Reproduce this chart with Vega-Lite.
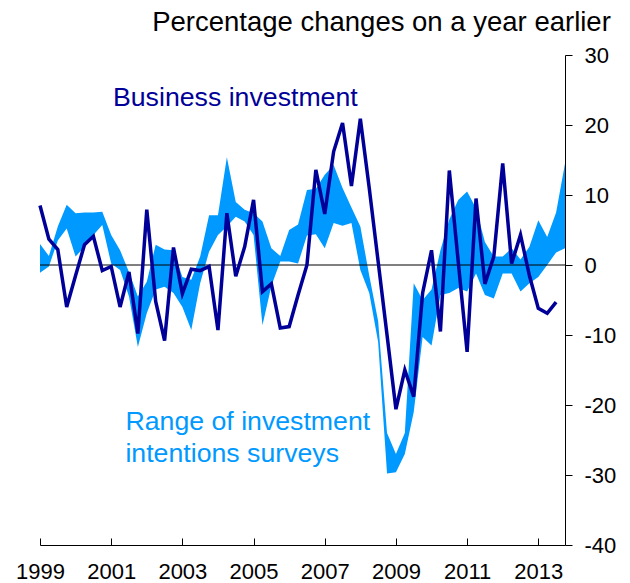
{
  "$schema": "https://vega.github.io/schema/vega-lite/v6.json",
  "width": 525,
  "height": 490,
  "autosize": {"type": "none"},
  "padding": {"left": 40, "top": 55, "right": 65, "bottom": 38},
  "title": {"text": "Percentage changes on a year earlier", "anchor": "end", "frame": "bounds", "fontSize": 27.5, "fontWeight": "normal", "color": "#000000", "offset": 8, "dx": -5, "font": "Liberation Sans"},
  "config": {
    "view": {"stroke": null},
    "font": "Liberation Sans",
    "axis": {"domainColor": "#000000", "tickColor": "#000000", "labelColor": "#000000", "grid": false, "title": null, "labelFont": "Liberation Sans", "labelFontSize": 22, "domainWidth": 1, "tickWidth": 1}
  },
  "datasets": {
    "band": [
      {"t": 1999.00, "lo": -1.1, "hi": 3.0}, {"t": 1999.25, "lo": -0.2, "hi": 1.3}, {"t": 1999.50, "lo": 3.5, "hi": 5.5}, {"t": 1999.75, "lo": 5.2, "hi": 8.6},
      {"t": 2000.00, "lo": 1.2, "hi": 7.4}, {"t": 2000.25, "lo": 2.6, "hi": 7.5}, {"t": 2000.50, "lo": 4.3, "hi": 7.5}, {"t": 2000.75, "lo": 5.7, "hi": 7.6},
      {"t": 2001.00, "lo": 0.2, "hi": 4.3}, {"t": 2001.25, "lo": -0.7, "hi": 2.1}, {"t": 2001.50, "lo": -4.5, "hi": -1.0}, {"t": 2001.75, "lo": -11.7, "hi": -4.5},
      {"t": 2002.00, "lo": -6.9, "hi": -2.4}, {"t": 2002.25, "lo": -3.5, "hi": 2.9}, {"t": 2002.50, "lo": -3.1, "hi": 2.2}, {"t": 2002.75, "lo": -4.0, "hi": 2.1},
      {"t": 2003.00, "lo": -6.0, "hi": -1.7}, {"t": 2003.25, "lo": -9.3, "hi": -2.1}, {"t": 2003.50, "lo": -2.6, "hi": 1.2}, {"t": 2003.75, "lo": 1.9, "hi": 7.1},
      {"t": 2004.00, "lo": 4.3, "hi": 7.1}, {"t": 2004.25, "lo": 5.5, "hi": 15.4}, {"t": 2004.50, "lo": 6.9, "hi": 9.0}, {"t": 2004.75, "lo": 6.2, "hi": 7.9},
      {"t": 2005.00, "lo": 4.3, "hi": 7.4}, {"t": 2005.25, "lo": -8.6, "hi": 6.2}, {"t": 2005.50, "lo": -3.0, "hi": 2.4}, {"t": 2005.75, "lo": 0.5, "hi": 1.3},
      {"t": 2006.00, "lo": 0.5, "hi": 5.0}, {"t": 2006.25, "lo": 0.2, "hi": 5.8}, {"t": 2006.50, "lo": 4.2, "hi": 10.7}, {"t": 2006.75, "lo": 4.4, "hi": 10.9},
      {"t": 2007.00, "lo": 2.4, "hi": 12.9}, {"t": 2007.25, "lo": 6.0, "hi": 14.3}, {"t": 2007.50, "lo": 5.6, "hi": 11.0}, {"t": 2007.75, "lo": 6.0, "hi": 8.2},
      {"t": 2008.00, "lo": -0.7, "hi": 5.5}, {"t": 2008.25, "lo": -4.0, "hi": -1.5}, {"t": 2008.50, "lo": -11.0, "hi": -8.0}, {"t": 2008.75, "lo": -29.8, "hi": -24.0},
      {"t": 2009.00, "lo": -29.6, "hi": -27.0}, {"t": 2009.25, "lo": -27.0, "hi": -24.0}, {"t": 2009.50, "lo": -21.0, "hi": -2.6}, {"t": 2009.75, "lo": -10.3, "hi": -5.0},
      {"t": 2010.00, "lo": -11.5, "hi": -3.5}, {"t": 2010.25, "lo": -4.3, "hi": 2.1}, {"t": 2010.50, "lo": -4.0, "hi": 6.5}, {"t": 2010.75, "lo": -3.3, "hi": 9.3},
      {"t": 2011.00, "lo": -3.8, "hi": 10.5}, {"t": 2011.25, "lo": -1.2, "hi": 8.1}, {"t": 2011.50, "lo": -4.3, "hi": 3.3}, {"t": 2011.75, "lo": -4.8, "hi": 1.2},
      {"t": 2012.00, "lo": -1.2, "hi": 1.2}, {"t": 2012.25, "lo": -1.2, "hi": 2.4}, {"t": 2012.50, "lo": -3.8, "hi": 0.8}, {"t": 2012.75, "lo": -2.6, "hi": 2.6},
      {"t": 2013.00, "lo": -1.7, "hi": 6.4}, {"t": 2013.25, "lo": 0.0, "hi": 4.0}, {"t": 2013.50, "lo": 1.8, "hi": 7.5}, {"t": 2013.75, "lo": 2.4, "hi": 14.5}
    ],
    "line": [
      {"t": 1999.00, "v": 8.5}, {"t": 1999.25, "v": 3.7}, {"t": 1999.50, "v": 2.2}, {"t": 1999.75, "v": -6.0},
      {"t": 2000.00, "v": -1.5}, {"t": 2000.25, "v": 2.9}, {"t": 2000.50, "v": 4.1}, {"t": 2000.75, "v": -0.8},
      {"t": 2001.00, "v": -0.2}, {"t": 2001.25, "v": -6.0}, {"t": 2001.50, "v": -1.0}, {"t": 2001.75, "v": -9.8},
      {"t": 2002.00, "v": 7.9}, {"t": 2002.25, "v": -5.2}, {"t": 2002.50, "v": -10.8}, {"t": 2002.75, "v": 2.5},
      {"t": 2003.00, "v": -4.1}, {"t": 2003.25, "v": -0.6}, {"t": 2003.50, "v": -0.8}, {"t": 2003.75, "v": -0.2},
      {"t": 2004.00, "v": -9.3}, {"t": 2004.25, "v": 7.4}, {"t": 2004.50, "v": -1.6}, {"t": 2004.75, "v": 2.6},
      {"t": 2005.00, "v": 9.3}, {"t": 2005.25, "v": -3.8}, {"t": 2005.50, "v": -2.7}, {"t": 2005.75, "v": -9.0},
      {"t": 2006.00, "v": -8.8}, {"t": 2006.25, "v": -4.3}, {"t": 2006.50, "v": 0.0}, {"t": 2006.75, "v": 13.6},
      {"t": 2007.00, "v": 7.3}, {"t": 2007.25, "v": 16.2}, {"t": 2007.50, "v": 20.3}, {"t": 2007.75, "v": 11.3},
      {"t": 2008.00, "v": 20.9}, {"t": 2008.25, "v": 11.0}, {"t": 2008.50, "v": 0.5}, {"t": 2008.75, "v": -10.0},
      {"t": 2009.00, "v": -20.6}, {"t": 2009.25, "v": -15.0}, {"t": 2009.50, "v": -18.8}, {"t": 2009.75, "v": -4.0},
      {"t": 2010.00, "v": 2.1}, {"t": 2010.25, "v": -9.5}, {"t": 2010.50, "v": 13.5}, {"t": 2010.75, "v": 0.5},
      {"t": 2011.00, "v": -12.4}, {"t": 2011.25, "v": 9.5}, {"t": 2011.50, "v": -2.7}, {"t": 2011.75, "v": 1.2},
      {"t": 2012.00, "v": 14.5}, {"t": 2012.25, "v": 0.2}, {"t": 2012.50, "v": 4.3}, {"t": 2012.75, "v": -1.5},
      {"t": 2013.00, "v": -6.2}, {"t": 2013.25, "v": -6.9}, {"t": 2013.50, "v": -5.3}
    ]
  },
  "layer": [
    {
      "data": {"name": "band"},
      "mark": {"type": "area", "color": "#0099FF", "opacity": 1},
      "encoding": {
        "x": {"field": "t", "type": "quantitative", "scale": {"domain": [1999, 2013.75], "nice": false, "zero": false},
              "axis": {"orient": "bottom", "values": [1999, 2001, 2003, 2005, 2007, 2009, 2011, 2013], "labelExpr": "datum.value", "tickSize": -7, "labelPadding": 23, "labelFlush": false}},
        "y": {"field": "lo", "type": "quantitative", "scale": {"domain": [-40, 30], "nice": false, "zero": false},
              "axis": {"orient": "right", "values": [-40, -30, -20, -10, 0, 10, 20, 30], "labelExpr": "datum.value", "tickSize": 7, "labelPadding": 12}},
        "y2": {"field": "hi"}
      }
    },
    {
      "data": {"values": [{"z": 0}]},
      "mark": {"type": "rule", "color": "#000000", "strokeWidth": 1},
      "encoding": {"y": {"field": "z", "type": "quantitative"}}
    },
    {
      "data": {"name": "line"},
      "mark": {"type": "line", "color": "#000099", "strokeWidth": 3.5, "strokeJoin": "miter"},
      "encoding": {
        "x": {"field": "t", "type": "quantitative"},
        "y": {"field": "v", "type": "quantitative"}
      }
    },
    {
      "data": {"values": [{"label": "Business investment", "lx": 2001.05, "ly": 22.7}]},
      "mark": {"type": "text", "color": "#000099", "fontSize": 26.7, "align": "left", "baseline": "alphabetic"},
      "encoding": {"x": {"field": "lx", "type": "quantitative"}, "y": {"field": "ly", "type": "quantitative"}, "text": {"field": "label"}}
    },
    {
      "data": {"values": [{"label": "Range of investment", "lx": 2001.4, "ly": -23.6}, {"label": "intentions surveys", "lx": 2001.4, "ly": -28.1}]},
      "mark": {"type": "text", "color": "#0099FF", "fontSize": 26.7, "align": "left", "baseline": "alphabetic"},
      "encoding": {"x": {"field": "lx", "type": "quantitative"}, "y": {"field": "ly", "type": "quantitative"}, "text": {"field": "label"}}
    }
  ]
}
